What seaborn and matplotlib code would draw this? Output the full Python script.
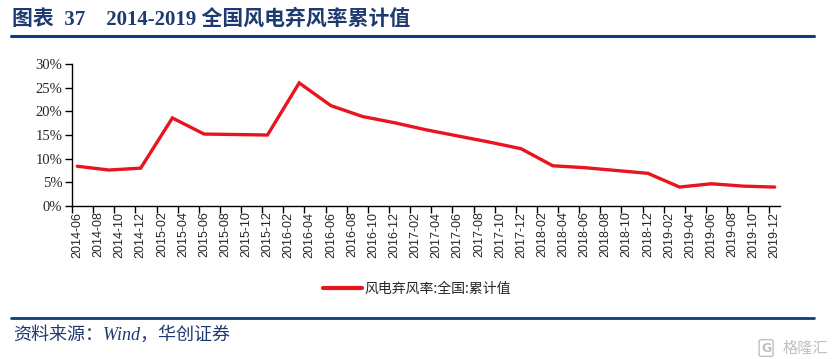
import matplotlib
matplotlib.use("Agg")
import matplotlib.pyplot as plt
import seaborn as sns
import pandas as pd
from matplotlib.lines import Line2D
from matplotlib.ticker import PercentFormatter, FixedLocator, NullFormatter, FixedFormatter

# ---------------- data ----------------
periods = ["2014-06", "2014-09", "2014-12", "2015-03", "2015-06", "2015-09", "2015-12",
           "2016-03", "2016-06", "2016-09", "2016-12", "2017-03", "2017-06", "2017-09",
           "2017-12", "2018-03", "2018-06", "2018-09", "2018-12", "2019-03", "2019-06",
           "2019-09", "2019-12"]
rates = [8.4, 7.6, 8.0, 18.6, 15.2, 15.1, 15.0,
         26.0, 21.2, 18.9, 17.6, 16.1, 14.8, 13.5,
         12.1, 8.5, 8.1, 7.5, 6.9, 4.0, 4.7,
         4.2, 4.0]
tick_labels = ["2014-06", "2014-08", "2014-10", "2014-12",
               "2015-02", "2015-04", "2015-06", "2015-08", "2015-10", "2015-12",
               "2016-02", "2016-04", "2016-06", "2016-08", "2016-10", "2016-12",
               "2017-02", "2017-04", "2017-06", "2017-08", "2017-10", "2017-12",
               "2018-02", "2018-04", "2018-06", "2018-08", "2018-10", "2018-12",
               "2019-02", "2019-04", "2019-06", "2019-08", "2019-10", "2019-12"]
series_name = "风电弃风率:全国:累计值"
title_text = "图表  37    2014-2019 全国风电弃风率累计值"
source_text = "资料来源：Wind，华创证券"

def month_index(s):
    y, m = s.split("-")
    return (int(y) - 2014) * 12 + int(m) - 6

df = pd.DataFrame({"period": periods, "rate": rates})
df["idx"] = df["period"].map(month_index)
tick_pos = [month_index(t) for t in tick_labels]

# ---------------- style ----------------
sns.set_theme(style="white")
plt.rcParams["font.family"] = ["Liberation Serif", "Noto Sans CJK SC", "DejaVu Sans"]

W, H = 836, 359
fig = plt.figure(figsize=(W / 100, H / 100), dpi=100)
ax = fig.add_axes([72 / W, 1 - 206 / H, (780 - 72) / W, (206 - 64) / H])

red = "#E8141E"
navy = "#1F3A70"
rule = "#0F3C80"

sns.lineplot(data=df, x="idx", y="rate", color=red, linewidth=2.4, ax=ax,
             legend=False, solid_joinstyle="miter")

ax.set_xlim(-0.5, 66.5)
ax.set_ylim(0, 30)
ax.set_xlabel("")
ax.set_ylabel("")

# y axis
ax.set_yticks([0, 5, 10, 15, 20, 25, 30])
ax.yaxis.set_major_formatter(PercentFormatter(xmax=100, decimals=0))
ax.tick_params(axis="y", direction="out", length=5, width=1, color="black",
               labelsize=10.5, pad=2, left=True)
for lab in ax.get_yticklabels():
    lab.set_fontfamily("Liberation Serif")

# x axis: tick marks between categories, labels centred on categories
ax.xaxis.set_major_locator(FixedLocator([p - 0.5 for p in tick_pos]))
ax.xaxis.set_major_formatter(NullFormatter())
ax.xaxis.set_minor_locator(FixedLocator(tick_pos))
ax.xaxis.set_minor_formatter(FixedFormatter(tick_labels))
ax.tick_params(axis="x", which="major", direction="out", length=5, width=1,
               color="black", bottom=True)
ax.tick_params(axis="x", which="minor", length=0, labelsize=9, pad=4,
               labelrotation=90, bottom=True)
for lab in ax.xaxis.get_minorticklabels():
    lab.set_fontfamily("Liberation Sans")

for s in ["top", "right"]:
    ax.spines[s].set_visible(False)
for s in ["left", "bottom"]:
    ax.spines[s].set_color("black")
    ax.spines[s].set_linewidth(1)
ax.grid(False)

# legend
handle = Line2D([], [], color=red, linewidth=3)
fig.legend([handle], [series_name], loc="center", bbox_to_anchor=(417 / W, 1 - 289 / H),
           frameon=False, handlelength=2.8, handletextpad=0.2,
           prop={"family": ["Noto Sans CJK SC"], "size": 10})

# title and rules
fig.text(12 / W, 1 - 19 / H, title_text, color=navy, fontsize=15, fontweight="bold",
         va="center", ha="left", family=["Liberation Serif", "Noto Sans CJK SC"])
fig.add_artist(Line2D([11 / W, 814 / W], [1 - 35.7 / H, 1 - 35.7 / H], color=rule,
                      linewidth=2.2, transform=fig.transFigure))
fig.add_artist(Line2D([11 / W, 814 / W], [1 - 318 / H, 1 - 318 / H], color=rule,
                      linewidth=2.0, transform=fig.transFigure))
fig.text(13 / W, 1 - 335 / H, source_text, color=navy, fontsize=13, style="italic",
         va="center", ha="left", family=["Liberation Serif", "Noto Sans CJK SC"])
fig.text(761 / W, 1 - 348 / H, "G", color="#C0C0C0", fontsize=9, fontweight="bold",
         va="center", ha="left", family=["DejaVu Sans"],
         bbox=dict(boxstyle="round,pad=0.15", fc="white", ec="#C0C0C0", lw=1))
fig.text(828 / W, 1 - 348 / H, "格隆汇", color="#C0C0C0", fontsize=11,
         va="center", ha="right", family=["Noto Sans CJK SC"])

fig.savefig("out.png", dpi=100)
